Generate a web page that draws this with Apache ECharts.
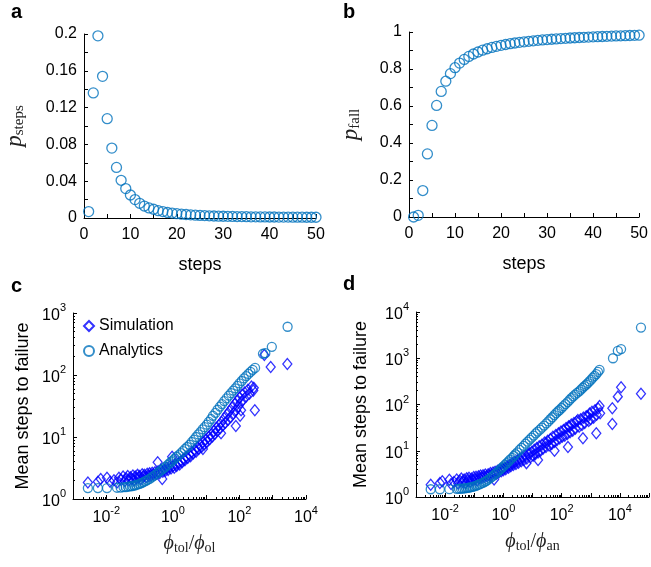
<!DOCTYPE html>
<html><head><meta charset="utf-8">
<script src="https://cdn.jsdelivr.net/npm/echarts@6/dist/echarts.min.js"></script>
<style>html,body{margin:0;padding:0;background:#fff}#chart{width:651px;height:567px}</style>
</head><body><div id="chart"></div>
<script>
// ---------- data ----------
const steps = [1,2,3,4,5,6,7,8,9,10,11,12,13,14,15,16,17,18,19,20,21,22,23,24,25,26,27,28,29,30,31,32,33,34,35,36,37,38,39,40,41,42,43,44,45,46,47,48,49,50];
const pSteps = [0.007,0.136,0.198,0.154,0.108,0.076,0.055,0.041,0.032,0.025,0.020,0.016,0.013,0.011,0.0095,0.008,0.007,0.006,0.0053,0.0047,0.0042,0.0038,0.0034,0.0031,0.0028,0.0026,0.0024,0.0022,0.0020,0.0019,0.0018,0.0017,0.0016,0.0015,0.0014,0.0013,0.0013,0.0012,0.0012,0.0011,0.0011,0.0010,0.0010,0.0010,0.0009,0.0009,0.0009,0.0008,0.0008,0.0008];
const pFall = [0,0.009,0.143,0.341,0.495,0.603,0.679,0.734,0.775,0.807,0.832,0.852,0.868,0.881,0.892,0.9015,0.9095,0.9165,0.9225,0.9278,0.9325,0.9367,0.9405,0.9439,0.947,0.9498,0.9524,0.9548,0.957,0.959,0.9609,0.9627,0.9644,0.966,0.9675,0.9689,0.9702,0.9714,0.9726,0.9737,0.9748,0.9758,0.9768,0.9777,0.9786,0.9795,0.9803,0.9811,0.9819,0.9826];

// panel c : x = phi_tol/phi_ol, y = mean steps to failure
const simC = [[0.0028,1.85],[0.0056,1.9],[0.0068,2.1],[0.0105,2.2],[0.013,1.9],[0.017,2.0],[0.021,1.85],[0.024,2.2],[0.028,2.05],[0.032,2.3],[0.036,1.95],[0.04,2.15],[0.044,2.35],[0.048,2.0],[0.053,2.25],[0.058,2.1],[0.063,2.4],[0.068,2.0],[0.074,2.3],[0.08,2.15],[0.087,2.45],[0.094,2.2],[0.1,2.35],[0.11,2.1],[0.12,2.5],[0.13,2.3],[0.14,2.45],[0.155,2.25],[0.17,2.55],[0.185,2.35],[0.2,2.6],[0.22,2.4],[0.24,2.65],[0.26,2.5],[0.29,2.7],[0.32,2.55],[0.35,3.9],[0.36,2.8],[0.4,2.6],[0.44,2.9],[0.48,2.1],[0.5,2.75],[0.55,3.0],[0.6,2.85],[0.66,3.2],[0.72,2.95],[0.8,3.3],[0.88,3.1],[0.95,4.8],[1.0,3.4],[1.1,3.2],[1.2,3.6],[1.3,3.4],[1.45,3.8],[1.6,3.6],[1.75,4.1],[1.9,3.9],[2.1,4.4],[2.3,4.2],[2.5,4.8],[2.8,4.6],[3.1,5.2],[3.4,4.9],[3.7,5.7],[4.1,5.4],[4.5,6.2],[5,5.8],[5.5,6.8],[6,6.4],[6.6,7.4],[7.3,6.9],[8,8.2],[8,6.4],[8.8,7.6],[9.7,9.0],[10.6,8.3],[11.7,10],[12.8,9.2],[14,11],[15.5,10.2],[17,12.4],[18.5,11.3],[20,14],[22,12.6],[24,15.5],[26.5,13.8],[28,11.5],[29,17.5],[32,15.5],[35,20],[38,17],[42,23],[46,19],[50,26],[55,21],[60,30],[66,24],[72,34],[79,27],[85,38],[78,15],[92,31],[100,43],[105,22],[112,27],[110,36],[120,48],[130,40],[143,52],[160,45],[180,58],[200,50],[230,65],[260,56],[270,62],[290,27],[560,210],[870,135],[2750,150]];
const anaC = [[0.0028,1.5],[0.0056,1.5],[0.0105,1.5],[0.021,1.52],[0.027,1.53],[0.033,1.55],[0.039,1.56],[0.045,1.58],[0.052,1.6],[0.06,1.62],[0.069,1.65],[0.078,1.68],[0.089,1.72],[0.1,1.76],[0.115,1.81],[0.13,1.87],[0.15,1.94],[0.17,2.02],[0.2,2.12],[0.23,2.23],[0.26,2.34],[0.3,2.47],[0.35,2.63],[0.4,2.78],[0.46,2.95],[0.53,3.13],[0.6,3.3],[0.7,3.55],[0.8,3.8],[0.9,4.0],[1.0,4.2],[1.15,4.5],[1.3,4.8],[1.5,5.1],[1.75,5.5],[2.0,5.9],[2.3,6.4],[2.7,6.9],[3.2,7.5],[3.7,8.3],[4.3,9.1],[5.0,10],[5.8,11],[6.7,12],[7.8,13.3],[9,14.4],[10.5,15.8],[12,17.5],[14,19.5],[16,22],[19,24.5],[22,27.5],[26,31],[30,34],[35,38],[41,42],[48,46.5],[56,51],[65,56],[75,61],[87,67],[100,73],[117,80],[136,88],[160,96],[186,104],[215,112],[250,121],[295,130],[510,220],[600,225],[940,285],[2800,600]];

// panel d : x = phi_tol/phi_an
const simD = [[0.0032,1.85],[0.0066,2.0],[0.008,2.2],[0.014,2.35],[0.016,1.9],[0.02,2.1],[0.025,2.4],[0.028,1.95],[0.032,2.25],[0.036,2.5],[0.04,2.1],[0.045,2.4],[0.05,2.0],[0.055,2.55],[0.06,2.25],[0.066,2.6],[0.072,2.15],[0.08,2.5],[0.088,2.3],[0.096,2.7],[0.105,2.4],[0.115,2.75],[0.125,2.3],[0.14,2.8],[0.15,2.5],[0.165,2.9],[0.18,2.6],[0.2,2.95],[0.22,2.7],[0.24,3.05],[0.27,2.8],[0.3,3.1],[0.33,2.9],[0.36,3.3],[0.4,3.0],[0.44,3.4],[0.48,2.4],[0.52,3.5],[0.57,3.2],[0.63,3.7],[0.7,3.4],[0.77,3.9],[0.85,3.6],[0.93,4.1],[1.0,3.8],[1.1,4.3],[1.2,4.0],[1.35,4.6],[1.5,4.3],[1.65,5.0],[1.8,4.6],[2.0,5.4],[2.2,4.9],[2.45,5.8],[2.7,5.2],[3.0,6.2],[3.3,5.5],[3.7,6.7],[4.1,5.9],[4.6,7.2],[5.1,6.3],[5.7,7.8],[6.2,5.4],[6.4,6.8],[7.1,8.4],[8,8.8],[8.5,7.2],[9.5,9.5],[10.5,7.8],[11.5,10.5],[12.5,8.4],[14,11.5],[15.5,6.3],[15.5,9.2],[17,12.5],[19,10],[21,13.5],[23,11],[26,15],[29,12],[30,14.5],[33,16.5],[37,13],[41,18],[46,14],[50,20],[57,10],[57,15.5],[63,22],[70,17],[78,24],[86,18.5],[95,26],[105,20],[116,28],[128,21],[142,31],[157,23],[165,12],[175,34],[186,33],[195,25],[215,37],[240,27],[265,40],[295,30],[330,43],[360,46],[400,33],[450,48],[500,36],[540,18.6],[560,52],[620,40],[700,56],[800,55],[850,44],[910,64],[1000,48],[1100,70],[1250,52],[1400,75],[1550,24],[1600,60],[1800,82],[2000,93],[2100,65],[5500,83],[5500,38],[8500,148],[11000,235],[53000,170]];
const anaD = [[0.0032,1.47],[0.0066,1.47],[0.014,1.48],[0.025,1.5],[0.03,1.5],[0.035,1.51],[0.04,1.52],[0.046,1.54],[0.053,1.56],[0.06,1.58],[0.068,1.6],[0.077,1.63],[0.087,1.66],[0.1,1.7],[0.115,1.75],[0.13,1.8],[0.15,1.87],[0.17,1.94],[0.2,2.03],[0.23,2.13],[0.26,2.24],[0.3,2.38],[0.35,2.55],[0.4,2.72],[0.46,2.92],[0.53,3.15],[0.6,3.4],[0.7,3.7],[0.8,4.0],[0.9,4.3],[1.0,4.6],[1.15,5.0],[1.3,5.4],[1.5,5.9],[1.7,6.4],[2.0,7.0],[2.3,7.7],[2.6,8.4],[3.0,9.2],[3.6,10.4],[4.2,11.5],[5.0,12.8],[5.8,14.2],[6.8,15.7],[8,17.4],[9.3,19.2],[11,21.3],[13,23.7],[15,26],[18,28.5],[21,31.5],[25,35],[30,39],[35,43],[41,48],[48,53],[56,59],[65,65],[75,71],[85,76],[100,84],[115,92],[135,102],[160,113],[186,125],[215,137],[250,150],[290,163],[340,178],[400,193],[460,210],[530,230],[610,250],[700,270],[790,290],[900,315],[1030,345],[1180,380],[1350,415],[1550,455],[1770,505],[2000,560],[5800,1000],[8500,1450],[11000,1580],[53000,4600]];

// tick values
const decadesC_X = [1e-3,1e-2,1e-1,1,10,100,1e3,1e4];
const labelsC_X = [1e-2,1,100,1e4];
const decadesD_X = [1e-3,1e-2,1e-1,1,10,100,1e3,1e4,1e5];
const labelsD_X = [1e-2,1,100,1e4];
const decadesC_Y = [1,10,100,1000];
const decadesD_Y = [1,10,100,1000,1e4];

function minorTicks(lo, hi){ // 2..9 x 10^k between lo and hi exponents
  const out=[]; for(let e=lo;e<hi;e++){ for(let m=2;m<=9;m++){ out.push(+(m*Math.pow(10,e)).toPrecision(3)); } } return out;
}

// ---------- style ----------
const SANS = '"Liberation Sans", Arial, Helvetica, sans-serif';
const SERIF = '"Liberation Serif", "Times New Roman", serif';
const BLUE_C = '#0072BD';
const BLUE_S = '#0000FF';
const AX = {lineStyle:{color:'#000',width:1}};
const lbl = {color:'#000', fontSize:16, fontFamily:SANS};
const logRich = {
  b:{fontSize:16, fontFamily:SANS, color:'#000', padding:[5,0,0,0]},
  s:{fontSize:11, fontFamily:SANS, color:'#000', verticalAlign:'top'}
};
function logFmt(v){ const e=Math.round(Math.log10(v)); return '{b|10}{s|'+e+'}'; }
const nameRich = {
  i:{fontSize:20, fontFamily:SERIF, fontStyle:'italic', color:'#222'},
  s:{fontSize:14, fontFamily:SERIF, color:'#222', verticalAlign:'bottom', padding:[8,0,0,0]},
  n:{fontSize:20, fontFamily:SERIF, color:'#222'}
};

function linX(grid, name){
  return {type:'value', gridIndex:grid, min:0, max:50, interval:10,
    axisLine:AX, axisTick:{inside:true,length:4,lineStyle:{color:'#000'}},
    minorTick:{show:true,splitNumber:2,length:4,lineStyle:{color:'#000'}},
    splitLine:{show:false}, axisLabel:Object.assign({margin:9},lbl),
    name:name, nameLocation:'middle', nameGap:38, nameTextStyle:{fontSize:18,fontFamily:SANS,color:'#000'}};
}
function logMajor(grid, min, max, ticks, labels, isX, nameStr, gap){
  const o = {type:'log', logBase:10, gridIndex:grid, min:min, max:max,
    axisLine:AX, axisTick:{inside:true,length:4,customValues:ticks,lineStyle:{color:'#000'}},
    splitLine:{show:false}, minorTick:{show:false},
    axisLabel:{customValues:labels, formatter:logFmt, rich:logRich, margin:isX?6:7},
    name:nameStr, nameLocation:'middle', nameGap:gap};
  return o;
}
function logMinor(grid, min, max, lo, hi, pos){
  return {type:'log', logBase:10, gridIndex:grid, min:min, max:max, position:pos,
    axisLine:{show:false}, axisLabel:{show:false}, splitLine:{show:false},
    axisTick:{inside:true,length:2,customValues:minorTicks(lo,hi),lineStyle:{color:'#000'}}};
}

const xC = logMajor(2,1e-3,1e4,decadesC_X,labelsC_X,true,'{i|ϕ}{s|tol}{n|/}{i|ϕ}{s|ol}',34);
xC.nameTextStyle = {rich:nameRich};
const xD = logMajor(3,1e-3,1e5,decadesD_X,labelsD_X,true,'{i|ϕ}{s|tol}{n|/}{i|ϕ}{s|an}',34);
xD.nameTextStyle = {rich:nameRich};
const yC = logMajor(2,1,1000,decadesC_Y,decadesC_Y,false,'Mean steps to failure',41);
yC.nameTextStyle = {fontSize:18,fontFamily:SANS,color:'#000'};
const yD = logMajor(3,1,1e4,decadesD_Y,decadesD_Y,false,'Mean steps to failure',46);
yD.nameTextStyle = {fontSize:18,fontFamily:SANS,color:'#000'};

function linY(grid, max, interval, name, gap){
  return {type:'value', gridIndex:grid, min:0, max:max, interval:interval,
    axisLine:AX, axisTick:{inside:true,length:4,lineStyle:{color:'#000'}},
    minorTick:{show:true,splitNumber:2,length:4,lineStyle:{color:'#000'}},
    splitLine:{show:false}, axisLabel:Object.assign({margin:7},lbl),
    name:name, nameLocation:'middle', nameGap:gap, nameTextStyle:{rich:{
      i:{fontSize:23, fontFamily:SERIF, fontStyle:'italic', color:'#222'},
      s:{fontSize:15, fontFamily:SERIF, color:'#222', verticalAlign:'bottom', padding:[9,0,0,0]}}}};
}

const hollow = c => ({color:'rgba(0,0,0,0)', borderColor:c, borderWidth:1.3});

const option = {
  animation:false,
  backgroundColor:'#fff',
  grid:[
    {left:84, top:34, width:232, height:184},
    {left:409, top:32, width:234, height:185},
    {left:73, top:313, width:233, height:186},
    {left:416, top:312, width:233, height:185}
  ],
  xAxis:[
    linX(0,'steps'), linX(1,'steps'),
    xC, xD,
    logMinor(2,1e-3,1e4,-3,4,'bottom'), logMinor(3,1e-3,1e5,-3,5,'bottom')
  ],
  yAxis:[
    linY(0,0.2,0.04,'{i|p}{s|steps}',57), linY(1,1,0.2,'{i|p}{s|fall}',46),
    yC, yD,
    logMinor(2,1,1000,0,3,'left'), logMinor(3,1,1e4,0,4,'left')
  ],
  legend:{
    left:83, top:318, orient:'vertical', itemWidth:10, itemHeight:10, itemGap:9,
    padding:0, textStyle:{fontSize:16,fontFamily:SANS,color:'#000'},
    data:['Simulation','Analytics']
  },
  graphic:[
    {type:'text', left:11, top:2, style:{text:'a', font:'bold 20px '+SANS, fill:'#000'}},
    {type:'text', left:343, top:2, style:{text:'b', font:'bold 20px '+SANS, fill:'#000'}},
    {type:'text', left:11, top:276, style:{text:'c', font:'bold 20px '+SANS, fill:'#000'}},
    {type:'text', left:343, top:274, style:{text:'d', font:'bold 20px '+SANS, fill:'#000'}}
  ],
  series:[
    {type:'scatter', xAxisIndex:0, yAxisIndex:0, symbol:'circle', symbolSize:10,
      itemStyle:hollow(BLUE_C), data:steps.map((s,i)=>[s,pSteps[i]])},
    {type:'scatter', xAxisIndex:1, yAxisIndex:1, symbol:'circle', symbolSize:10,
      itemStyle:hollow(BLUE_C), data:steps.map((s,i)=>[s,pFall[i]])},
    {name:'Simulation', type:'scatter', xAxisIndex:2, yAxisIndex:2, symbol:'diamond', symbolSize:[9,11],
      itemStyle:hollow(BLUE_S), data:simC},
    {name:'Analytics', type:'scatter', xAxisIndex:2, yAxisIndex:2, symbol:'circle', symbolSize:9,
      itemStyle:hollow(BLUE_C), data:anaC},
    {name:'Simulation d', type:'scatter', xAxisIndex:3, yAxisIndex:3, symbol:'diamond', symbolSize:[9,11],
      itemStyle:hollow(BLUE_S), data:simD},
    {name:'Analytics d', type:'scatter', xAxisIndex:3, yAxisIndex:3, symbol:'circle', symbolSize:9,
      itemStyle:hollow(BLUE_C), data:anaD}
  ]
};
const chart = echarts.init(document.getElementById('chart'), null, {renderer:'canvas'});
chart.setOption(option);
</script></body></html>
